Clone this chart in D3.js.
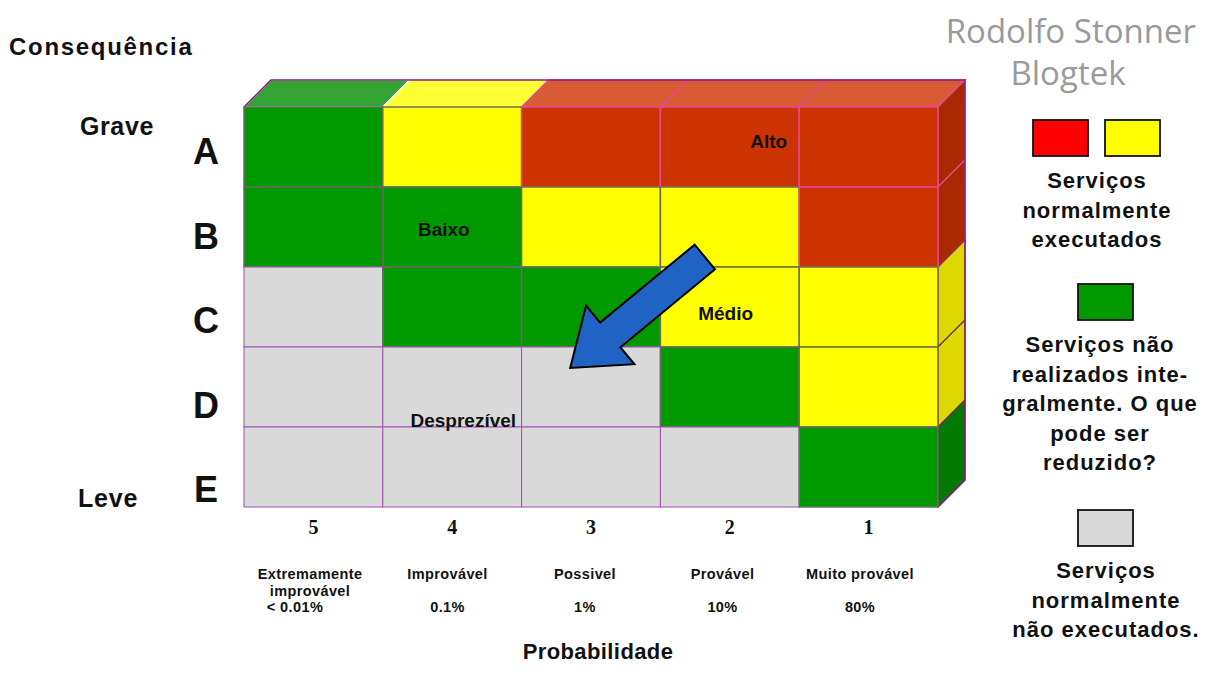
<!DOCTYPE html>
<html>
<head>
<meta charset="utf-8">
<script src="https://cdn.jsdelivr.net/npm/d3@7"></script>
<style>
    body { margin: 0; background: #fff; }
    svg { display: block; }
    text { font-family: "Liberation Sans", Arial, sans-serif; font-weight: bold; fill: #111; }
</style>
</head>
<body>
<div id="chart"></div>
<script>
// Rows (consequence) and columns (probability)
const rows = ['A', 'B', 'C', 'D', 'E'];
const cols = ['5', '4', '3', '2', '1'];
const colNames = [['Extremamente', 'improvável'], ['Improvável'], ['Possivel'], ['Provável'], ['Muito provável']];
const colPercent = ['< 0.01%', '0.1%', '1%', '10%', '80%'];

// Risk level of each cell, row by row (r = alto, y = médio, g = baixo, n = desprezível)
const levels = [
    ['g', 'y', 'r', 'r', 'r'],
    ['g', 'g', 'y', 'y', 'r'],
    ['n', 'g', 'g', 'y', 'y'],
    ['n', 'n', 'n', 'g', 'y'],
    ['n', 'n', 'n', 'n', 'g']
];

const zoneNames = ['Alto', 'Baixo', 'Médio', 'Desprezível'];
const zoneCells = [['A', '2'], ['B', '4'], ['C', '2'], ['D', '4']];

const legendRed = ['Serviços', 'normalmente', 'executados'];
const legendGreen = ['Serviços não', 'realizados inte-', 'gralmente. O que', 'pode ser', 'reduzido?'];
const legendGray = ['Serviços', 'normalmente', 'não executados.'];

function drawMatrix() {
    const w = 1208;
    const h = 675;
    const depthX = 27;
    const depthY = -27;

    const front = { r: '#cc3300', y: '#ffff00', g: '#009900', n: '#d9d9d9' };
    const topShade = { r: '#d95b33', y: '#ffff33', g: '#33a333', n: '#e4e4e4' };
    const sideShade = { r: '#aa2a00', y: '#dcd800', g: '#007a00', n: '#bbbbbb' };
    const edge = { r: '#ec4592', y: '#6e6e50', g: '#6a6a6a', n: '#a050b0' };

    const svg = d3.select('#chart')
        .append('svg')
        .attr('width', w)
        .attr('height', h);

    const xScale = d3.scaleBand() // columns of the matrix
        .domain(cols)
        .range([244, 938]);

    const yScale = d3.scaleBand() // rows of the matrix
        .domain(rows)
        .range([107, 507]);

    const bw = xScale.bandwidth();
    const bh = yScale.bandwidth();
    const right = xScale.range()[1];
    const topY = yScale.range()[0];

    // Top faces, taken from row A
    svg.selectAll('.topFace')
        .data(cols)
        .enter()
        .append('polygon')
        .attr('points', (c) => {
            const x0 = xScale(c);
            return [[x0, topY], [x0 + bw, topY], [x0 + bw + depthX, topY + depthY], [x0 + depthX, topY + depthY]].join(' ');
        })
        .attr('fill', (c, i) => topShade[levels[0][i]])
        .attr('stroke', (c, i) => levels[0][i] === 'r' ? '#ec4592' : '#f4f4f4')
        .attr('stroke-width', 1.5);

    // Side faces, taken from column 1
    svg.selectAll('.sideFace')
        .data(rows)
        .enter()
        .append('polygon')
        .attr('points', (r) => {
            const y0 = yScale(r);
            return [[right, y0], [right + depthX, y0 + depthY], [right + depthX, y0 + bh + depthY], [right, y0 + bh]].join(' ');
        })
        .attr('fill', (r, i) => sideShade[levels[i][4]])
        .attr('stroke', (r, i) => levels[i][4] === 'r' ? '#ec4592' : '#7a2a5a')
        .attr('stroke-width', 1.2);

    // Outer back edge
    svg.append('polyline')
        .attr('points', [[xScale(cols[0]), topY], [xScale(cols[0]) + depthX, topY + depthY],
            [right + depthX, topY + depthY], [right + depthX, yScale.range()[1] + depthY], [right, yScale.range()[1]]].join(' '))
        .attr('fill', 'none')
        .attr('stroke', '#8a1f7a')
        .attr('stroke-width', 1.5);

    // Front cells
    const cells = [];
    rows.forEach((r, i) => cols.forEach((c, j) => cells.push({ r, c, level: levels[i][j] })));

    svg.selectAll('.cell')
        .data(cells)
        .enter()
        .append('rect')
        .attr('x', (d) => xScale(d.c))
        .attr('y', (d) => yScale(d.r))
        .attr('width', bw)
        .attr('height', bh)
        .attr('fill', (d) => front[d.level])
        .attr('stroke', (d) => edge[d.level])
        .attr('stroke-width', (d) => d.level === 'n' ? 1 : 1.5);

    // Zone names inside the grid
    const zoneOffset = [[0.78, 0.51], [0.44, 0.61], [0.47, 0.66], [0.58, 1.0]];
    svg.selectAll('.zone')
        .data(zoneNames)
        .enter()
        .append('text')
        .attr('x', (d, i) => xScale(zoneCells[i][1]) + bw * zoneOffset[i][0])
        .attr('y', (d, i) => yScale(zoneCells[i][0]) + bh * zoneOffset[i][1])
        .attr('text-anchor', 'middle')
        .style('font-size', '19px')
        .text((d) => d);

    // Arrow from Médio towards Desprezível
    const tail = [xScale('2') + bw * 0.32, yScale('C') - 10];
    const tip = [xScale('3') + bw * 0.35, yScale('D') + 21];
    const len = Math.hypot(tip[0] - tail[0], tip[1] - tail[1]);
    const ang = Math.atan2(tip[1] - tail[1], tip[0] - tail[0]) * 180 / Math.PI;
    const sw = 16, hw = 38, hl = 52;
    svg.append('polygon')
        .attr('points', [[0, -sw], [len - hl, -sw], [len - hl, -hw], [len, 0], [len - hl, hw], [len - hl, sw], [0, sw]].join(' '))
        .attr('transform', 'translate(' + tail[0] + ',' + tail[1] + ') rotate(' + ang + ')')
        .attr('fill', '#1f64c4')
        .attr('stroke', '#000')
        .attr('stroke-width', 2)
        .attr('stroke-linejoin', 'miter');

    // Row letters
    const letterScale = d3.scalePoint().domain(rows).range([164, 502]);
    svg.selectAll('.letter')
        .data(rows)
        .enter()
        .append('text')
        .attr('x', 206)
        .attr('y', (d) => letterScale(d))
        .attr('text-anchor', 'middle')
        .style('font-size', '36px')
        .text((d) => d);

    svg.append('text').attr('x', 9).attr('y', 55).style('font-size', '24px').style('letter-spacing', '1.7px').text('Consequência');
    svg.append('text').attr('x', 80).attr('y', 135).style('font-size', '25px').style('letter-spacing', '0.6px').text('Grave');
    svg.append('text').attr('x', 78).attr('y', 507).style('font-size', '25px').style('letter-spacing', '0.8px').text('Leve');

    // Column numbers
    svg.selectAll('.colNum')
        .data(cols)
        .enter()
        .append('text')
        .attr('x', (d) => xScale(d) + bw / 2)
        .attr('y', 534)
        .attr('text-anchor', 'middle')
        .style('font-family', '"Liberation Serif", "Times New Roman", serif')
        .style('font-size', '20px')
        .text((d) => d);

    // Probability descriptions
    const nameScale = d3.scalePoint().domain(cols).range([310, 860]);
    cols.forEach((c, i) => {
        colNames[i].forEach((line, k) => {
            svg.append('text')
                .attr('x', nameScale(c))
                .attr('y', 579 + k * 17)
                .attr('text-anchor', 'middle')
                .style('font-size', '14.5px')
                .style('letter-spacing', '0.4px')
                .text(line);
        });
        svg.append('text')
            .attr('x', nameScale(c) + (i === 0 ? -15 : 0))
            .attr('y', 612)
            .attr('text-anchor', 'middle')
            .style('font-size', '14.5px')
            .style('letter-spacing', '0.4px')
            .text(colPercent[i]);
    });

    svg.append('text')
        .attr('x', 598).attr('y', 659)
        .attr('text-anchor', 'middle')
        .style('font-size', '22px')
        .style('letter-spacing', '0.4px')
        .text('Probabilidade');

    // Watermark
    svg.append('text')
        .attr('x', 1196).attr('y', 43)
        .attr('text-anchor', 'end')
        .style('font-family', '"Open Sans", sans-serif')
        .style('font-weight', 'normal')
        .style('font-size', '33px')
        .style('fill', '#9a9a9a')
        .text('Rodolfo Stonner');
    svg.append('text')
        .attr('x', 1068).attr('y', 85)
        .attr('text-anchor', 'middle')
        .style('font-family', '"Open Sans", sans-serif')
        .style('font-weight', 'normal')
        .style('font-size', '33px')
        .style('fill', '#9a9a9a')
        .text('Blogtek');

    // Legend
    const box = (x, y, fill) => svg.append('rect')
        .attr('x', x).attr('y', y).attr('width', 55).attr('height', 36)
        .attr('fill', fill).attr('stroke', '#111').attr('stroke-width', 1.8);
    box(1033, 120, '#ff0000');
    box(1105, 120, '#ffff00');
    box(1078, 284, '#009900');
    box(1078, 510, '#d9d9d9');

    const legendText = (lines, cx, y0) => lines.forEach((line, k) => {
        svg.append('text')
            .attr('x', cx).attr('y', y0 + k * 29.5)
            .attr('text-anchor', 'middle')
            .style('font-size', '22px')
            .style('letter-spacing', '1px')
            .text(line);
    });
    legendText(legendRed, 1097, 188);
    legendText(legendGreen, 1100, 352);
    legendText(legendGray, 1106, 578);
}

drawMatrix();
</script>
</body>
</html>
